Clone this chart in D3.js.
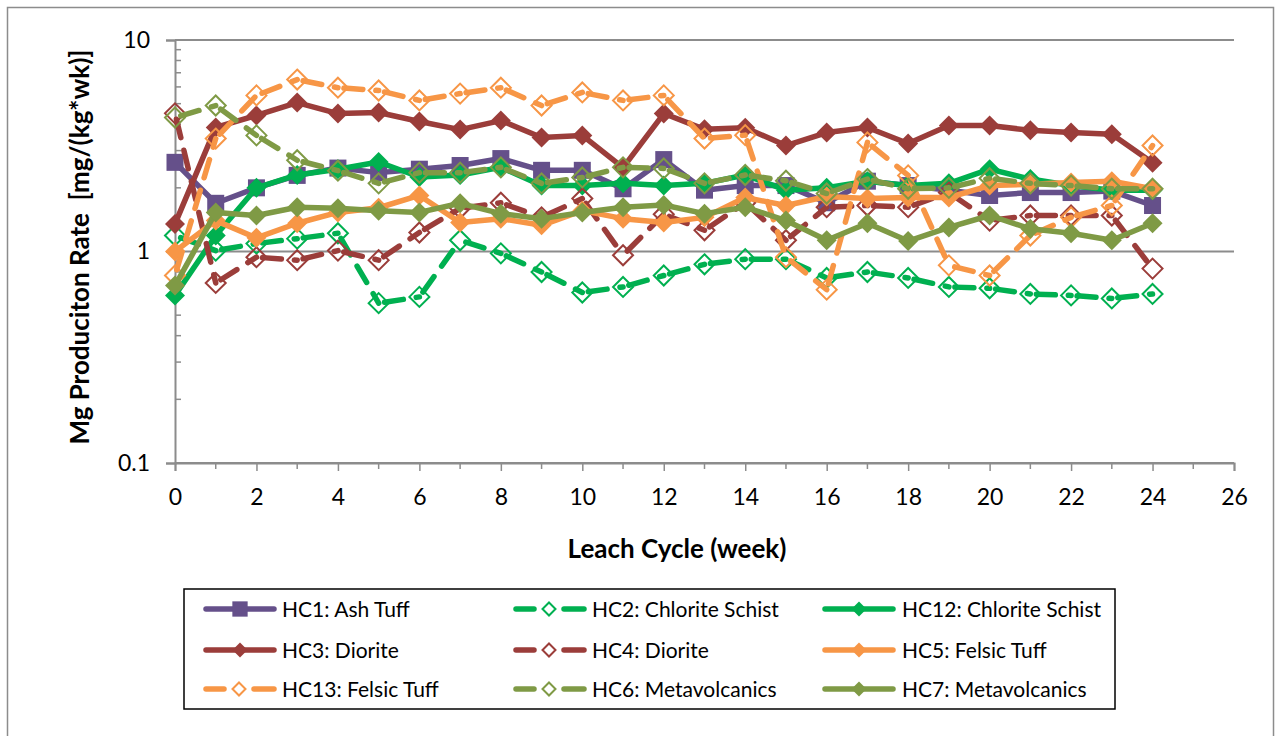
<!DOCTYPE html>
<html><head><meta charset="utf-8">
<script src="https://cdn.jsdelivr.net/npm/d3@7"></script>
<style>
body{margin:0;background:#fff;}
text{font-family:Lato,"Open Sans",sans-serif;}
</style></head>
<body><svg id="c" width="1281" height="736"></svg>
<script>
const weeks = [0,1,2,3,4,5,6,7,8,9,10,11,12,13,14,15,16,17,18,19,20,21,22,23,24];
const xTicks = [0,2,4,6,8,10,12,14,16,18,20,22,24,26];
const yTicks = [0.1,1,10];
const yTickLabels = ["0.1","1","10"];

const HC1  = [2.64,1.69,2.0,2.29,2.48,2.36,2.45,2.55,2.75,2.42,2.42,1.98,2.72,1.95,2.05,2.05,1.7,2.15,2.05,1.95,1.84,1.9,1.9,1.93,1.65];
const HC2  = [1.19,1.01,1.09,1.15,1.22,0.57,0.61,1.13,0.98,0.80,0.64,0.68,0.77,0.87,0.92,0.92,0.75,0.80,0.75,0.68,0.67,0.63,0.62,0.60,0.63];
const HC12 = [0.62,1.19,2.0,2.3,2.45,2.65,2.25,2.3,2.5,2.05,2.05,2.1,2.05,2.1,2.3,1.95,2.0,2.15,2.05,2.1,2.45,2.2,2.05,1.95,1.95];
const HC3  = [1.35,3.86,4.4,5.06,4.49,4.54,4.12,3.77,4.16,3.46,3.54,2.49,4.49,3.78,3.85,3.17,3.65,3.86,3.24,3.94,3.94,3.74,3.65,3.58,2.63];
const HC4  = [4.5,0.71,0.94,0.91,1.01,0.91,1.23,1.6,1.7,1.45,1.78,0.96,1.5,1.26,1.7,1.13,1.62,1.65,1.62,1.9,1.4,1.48,1.48,1.48,0.83];
const HC5  = [1.0,1.4,1.16,1.36,1.53,1.61,1.84,1.37,1.43,1.33,1.56,1.43,1.37,1.45,1.8,1.65,1.82,1.78,1.8,1.8,2.05,2.08,2.12,2.15,1.98];
const HC13 = [0.77,3.42,5.47,6.5,5.95,5.77,5.18,5.58,5.95,4.9,5.65,5.18,5.47,3.42,3.55,0.94,0.66,3.28,2.29,0.86,0.77,1.19,1.45,1.65,3.17];
const HC6  = [4.3,4.9,3.54,2.7,2.41,2.1,2.36,2.36,2.5,2.1,2.24,2.5,2.47,2.1,2.3,2.16,1.88,2.2,1.98,2.0,2.22,2.1,2.05,1.98,1.98];
const HC7  = [0.69,1.53,1.48,1.62,1.6,1.56,1.53,1.69,1.51,1.43,1.53,1.62,1.66,1.51,1.62,1.4,1.13,1.36,1.12,1.3,1.48,1.28,1.22,1.13,1.36];

const names = ["HC1: Ash Tuff","HC2: Chlorite Schist","HC12: Chlorite Schist","HC3: Diorite","HC4: Diorite","HC5: Felsic Tuff","HC13: Felsic Tuff","HC6: Metavolcanics","HC7: Metavolcanics"];

const C = {purple:"#65508A", red:"#9B3D3A", green:"#00B050", orange:"#F79646", olive:"#7F9A45"};
const series = [
  {name:names[0], vals:HC1,  color:C.purple, dash:false, marker:"square"},
  {name:names[1], vals:HC2,  color:C.green,  dash:true,  marker:"open"},
  {name:names[2], vals:HC12, color:C.green,  dash:false, marker:"diamond"},
  {name:names[3], vals:HC3,  color:C.red,    dash:false, marker:"diamond"},
  {name:names[4], vals:HC4,  color:C.red,    dash:true,  marker:"open"},
  {name:names[5], vals:HC5,  color:C.orange, dash:false, marker:"diamond"},
  {name:names[6], vals:HC13, color:C.orange, dash:true,  marker:"open"},
  {name:names[7], vals:HC6,  color:C.olive,  dash:true,  marker:"open"},
  {name:names[8], vals:HC7,  color:C.olive,  dash:false, marker:"diamond"}
];

const svg = d3.select("#c");
const L=175, R=1234, T=40, B=463;
const x = d3.scaleLinear().domain([0,26]).range([L,R]);
const y = d3.scaleLog().domain([0.1,10]).range([B,T]);
const axisCol = "#8C8C8C";

// outer border
svg.append("rect").attr("x",7.5).attr("y",7.5).attr("width",1266).attr("height",740)
  .attr("fill","none").attr("stroke","#8C8C8C").attr("stroke-width",1.5);

// horizontal gridlines at decades
svg.append("g").selectAll("line").data(yTicks).join("line")
  .attr("x1",L).attr("x2",R).attr("y1",d=>y(d)).attr("y2",d=>y(d))
  .attr("stroke",axisCol).attr("stroke-width",2);

// y axis
const yAxis = d3.axisLeft(y).tickValues(yTicks).tickFormat((d,i)=>yTickLabels[i]).tickSize(9).tickPadding(16);
const gy = svg.append("g").attr("transform",`translate(${L},0)`).call(yAxis);
gy.select(".domain").attr("stroke",axisCol).attr("stroke-width",2);
gy.selectAll(".tick line").attr("stroke",axisCol).attr("stroke-width",2);
gy.selectAll(".tick text").attr("font-size",23).attr("fill","#000").attr("font-family","Lato");
// minor ticks (inside)
const minors = [];
[0.1,1].forEach(dec=>{for(let k=2;k<=9;k++) minors.push(dec*k);});
svg.append("g").selectAll("line").data(minors).join("line")
  .attr("x1",L).attr("x2",L+6).attr("y1",d=>y(d)).attr("y2",d=>y(d))
  .attr("stroke",axisCol).attr("stroke-width",1.5);

// x axis
const xAxis = d3.axisBottom(x).tickValues(xTicks).tickSize(8).tickPadding(18);
const gx = svg.append("g").attr("transform",`translate(0,${B})`).call(xAxis);
gx.select(".domain").attr("stroke",axisCol).attr("stroke-width",2);
gx.selectAll(".tick line").attr("stroke",axisCol).attr("stroke-width",1.5);
gx.selectAll(".tick text").attr("font-size",23).attr("fill","#000").attr("font-family","Lato");
svg.append("g").selectAll("line").data(d3.range(1,26,2)).join("line")
  .attr("x1",d=>x(d)).attr("x2",d=>x(d)).attr("y1",B).attr("y2",B+6)
  .attr("stroke",axisCol).attr("stroke-width",1.5);

// titles
svg.append("text").attr("x",677).attr("y",558).attr("text-anchor","middle")
  .attr("font-size",26).attr("font-weight","bold").text("Leach Cycle (week)");
svg.append("text").attr("transform","translate(89,247) rotate(-90)").attr("text-anchor","middle")
  .attr("font-size",26).attr("font-weight","bold").style("white-space","pre")
  .text("Mg Produciton Rate  [mg/(kg*wk)]");

// series
const plot = svg.append("g");
function drawMarker(g, type, color, cx, cy, scale){
  const s = scale||1;
  if(type==="square"){
    const h=8.5*s;
    g.append("rect").attr("x",cx-h).attr("y",cy-h).attr("width",2*h).attr("height",2*h).attr("fill",color);
  } else if(type==="diamond"){
    const h=10*s;
    g.append("path").attr("d",`M${cx},${cy-h}L${cx+h},${cy}L${cx},${cy+h}L${cx-h},${cy}Z`).attr("fill",color);
  } else {
    const h=10*s;
    g.append("path").attr("d",`M${cx},${cy-h}L${cx+h},${cy}L${cx},${cy+h}L${cx-h},${cy}Z`)
      .attr("fill","none").attr("stroke",color).attr("stroke-width",2);
  }
}
series.forEach(s=>{
  const g = plot.append("g");
  const pts = weeks.map((w,i)=>[x(w), y(s.vals[i])]);
  if(s.dash){
    for(let i=0;i<pts.length-1;i++){
      g.append("line").attr("x1",pts[i][0]).attr("y1",pts[i][1]).attr("x2",pts[i+1][0]).attr("y2",pts[i+1][1])
        .attr("stroke",s.color).attr("stroke-width",5.5).attr("stroke-linecap","round")
        .attr("stroke-dasharray","19 13").attr("stroke-dashoffset",-6);
    }
  } else {
    g.append("path").attr("d",d3.line()(pts)).attr("fill","none").attr("stroke",s.color)
      .attr("stroke-width",5.5).attr("stroke-linejoin","round");
  }
  pts.forEach(p=>drawMarker(g,s.marker,s.color,p[0],p[1]));
});

// legend
svg.append("rect").attr("x",184).attr("y",589).attr("width",931).attr("height",120)
  .attr("fill","#fff").attr("stroke","#000").attr("stroke-width",1.5);
const colX = [204,514,823];
const rowY = [609,650,689];
series.forEach((s,i)=>{
  const r = Math.floor(i/3), c = i%3;
  const g = svg.append("g");
  const x0 = colX[c], x1 = x0+72, cy = rowY[r];
  if(s.dash){
    g.append("line").attr("x1",x0+2).attr("x2",x0+20).attr("y1",cy).attr("y2",cy)
      .attr("stroke",s.color).attr("stroke-width",5.5).attr("stroke-linecap","round");
    g.append("line").attr("x1",x1-22).attr("x2",x1-2).attr("y1",cy).attr("y2",cy)
      .attr("stroke",s.color).attr("stroke-width",5.5).attr("stroke-linecap","round");
    drawMarker(g,s.marker,s.color,(x0+x1)/2-1,cy,0.65);
  } else {
    g.append("line").attr("x1",x0+2).attr("x2",x1-2).attr("y1",cy).attr("y2",cy)
      .attr("stroke",s.color).attr("stroke-width",5.5).attr("stroke-linecap","round");
    drawMarker(g,s.marker,s.color,(x0+x1)/2,cy,s.marker==="square"?0.9:0.75);
  }
  g.append("text").attr("x",(c===1?592:(c===0?282:902))).attr("y",cy).attr("dy","0.36em")
    .attr("font-size",21).attr("fill","#000").text(s.name);
});
</script></body></html>
